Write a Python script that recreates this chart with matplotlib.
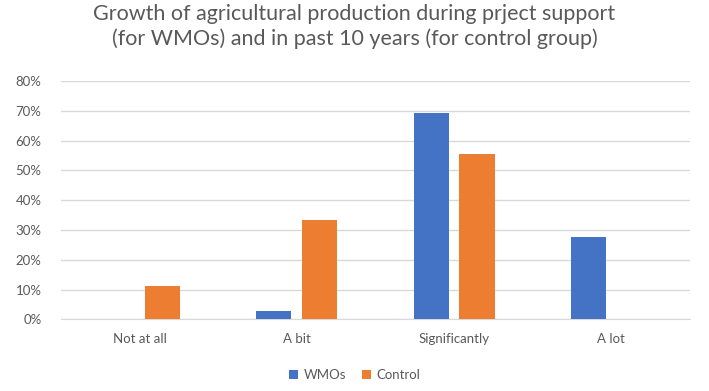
import numpy as np
import matplotlib
matplotlib.use("Agg")
import matplotlib.pyplot as plt
from matplotlib.ticker import PercentFormatter

# survey answers, share of respondents
categories = ["Not at all", "A bit", "Significantly", "A lot"]
wmos = [0.0, 2.8, 69.4, 27.8]
control = [11.1, 33.3, 55.6, 0.0]
yticks = [0, 10, 20, 30, 40, 50, 60, 70, 80]

blue = "#4472C4"
orange = "#ED7D31"
grey = "#595959"

plt.rcParams["font.family"] = ["Lato", "DejaVu Sans"]

fig = plt.figure(figsize=(7.09, 3.91), dpi=100)
ax = fig.add_axes([0.086, 0.183, 0.887, 0.61])

x = np.arange(len(categories))
w = 0.223
off = 0.146
ax.bar(x - off, wmos, w, color=blue, label="WMOs", zorder=3)
ax.bar(x + off, control, w, color=orange, label="Control", zorder=3)

ax.set_xlim(-0.5, len(categories) - 0.5)
ax.set_ylim(0, 80)
ax.set_yticks(yticks)
ax.yaxis.set_major_formatter(PercentFormatter(decimals=0))
ax.set_xticks(x)
ax.set_xticklabels(categories)

ax.grid(axis="y", color="#d9d9d9", linewidth=1, zorder=0)
for s in ["top", "right", "left"]:
    ax.spines[s].set_visible(False)
ax.spines["bottom"].set_color("#d9d9d9")
ax.tick_params(axis="both", length=0, colors=grey, labelsize=9.5)
ax.tick_params(axis="x", pad=10)
ax.tick_params(axis="y", pad=14)

fig.suptitle("Growth of agricultural production during prject support\n"
             "(for WMOs) and in past 10 years (for control group)",
             y=0.99, fontsize=15.5, color=grey, linespacing=1.25)

fig.legend(loc="lower center", bbox_to_anchor=(0.5, -0.005), ncol=2,
           frameon=False, fontsize=9.5, labelcolor=grey,
           handlelength=0.7, handleheight=0.7, handletextpad=0.4,
           columnspacing=1.2)

plt.savefig("out.png", dpi=100)
